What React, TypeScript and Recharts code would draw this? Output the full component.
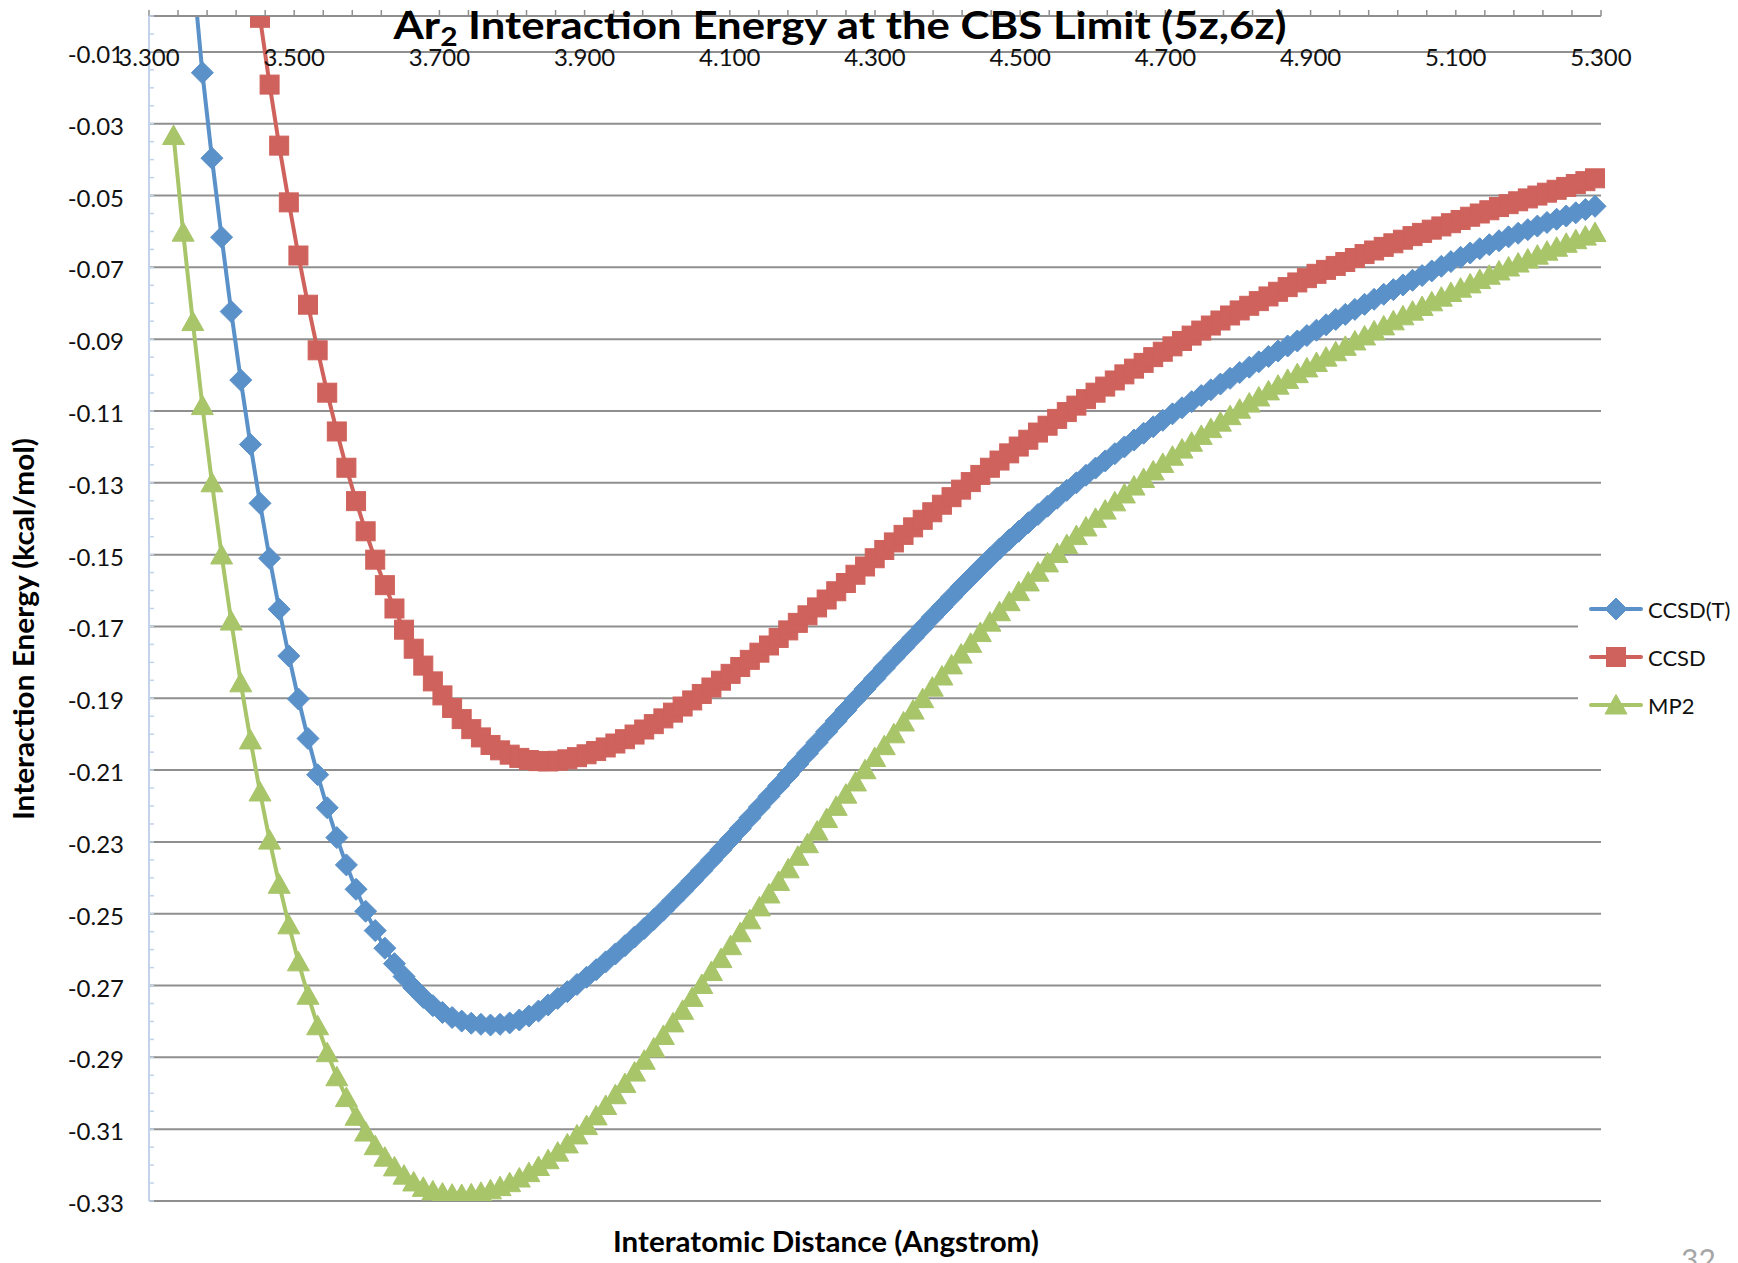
import { CartesianGrid, Legend, Line, LineChart, XAxis, YAxis } from "recharts";

const BLUE = "#5a91c9";
const RED = "#cf625c";
const GREEN = "#a8c56a";
const GRID = "#8f8f8f";
const Y_AXIS_LINE = "#c2d3ea";
const INK = "#111111";
const FONT = "Lato, 'Open Sans', sans-serif";

const BOHR_TO_ANGSTROM = 0.529177;

// separations were computed on a bohr grid
const separationBohr = [
  6.3, 6.325, 6.35, 6.375, 6.4, 6.425, 6.45, 6.475, 6.5, 6.525,
  6.55, 6.575, 6.6, 6.625, 6.65, 6.675, 6.7, 6.725, 6.75, 6.775,
  6.8, 6.825, 6.85, 6.875, 6.9, 6.925, 6.95, 6.975, 7.0, 7.025,
  7.05, 7.075, 7.1, 7.125, 7.15, 7.175, 7.2, 7.225, 7.25, 7.275,
  7.3, 7.325, 7.35, 7.375, 7.4, 7.425, 7.45, 7.475, 7.5, 7.525,
  7.55, 7.575, 7.6, 7.625, 7.65, 7.675, 7.7, 7.725, 7.75, 7.775,
  7.8, 7.825, 7.85, 7.875, 7.9, 7.925, 7.95, 7.975, 8.0, 8.025,
  8.05, 8.075, 8.1, 8.125, 8.15, 8.175, 8.2, 8.225, 8.25, 8.275,
  8.3, 8.325, 8.35, 8.375, 8.4, 8.425, 8.45, 8.475, 8.5, 8.525,
  8.55, 8.575, 8.6, 8.625, 8.65, 8.675, 8.7, 8.725, 8.75, 8.775,
  8.8, 8.825, 8.85, 8.875, 8.9, 8.925, 8.95, 8.975, 9.0, 9.025,
  9.05, 9.075, 9.1, 9.125, 9.15, 9.175, 9.2, 9.225, 9.25, 9.275,
  9.3, 9.325, 9.35, 9.375, 9.4, 9.425, 9.45, 9.475, 9.5, 9.525,
  9.55, 9.575, 9.6, 9.625, 9.65, 9.675, 9.7, 9.725, 9.75, 9.775,
  9.8, 9.825, 9.85, 9.875, 9.9, 9.925, 9.95, 9.975, 10.0,
];

const ccsdT = [
  0.075, 0.043, 0.013, -0.0158, -0.0396, -0.0616, -0.0823, -0.1014, -0.1193, -0.1357,
  -0.151, -0.1652, -0.1782, -0.1902, -0.2012, -0.2113, -0.2205, -0.2288, -0.2364, -0.2432,
  -0.2493, -0.2547, -0.2596, -0.2639, -0.2675, -0.2706, -0.2733, -0.2756, -0.2775, -0.2789,
  -0.2799, -0.2805, -0.2808, -0.281, -0.2808, -0.2804, -0.2796, -0.2785, -0.2771, -0.2754,
  -0.2736, -0.2717, -0.2697, -0.2677, -0.2656, -0.2634, -0.2612, -0.2589, -0.2565, -0.2541,
  -0.2516, -0.249, -0.2463, -0.2436, -0.2408, -0.238, -0.2351, -0.2322, -0.2293, -0.2263,
  -0.2233, -0.2203, -0.2173, -0.2143, -0.2113, -0.2083, -0.2053, -0.2023, -0.1993, -0.1963,
  -0.1933, -0.1903, -0.1874, -0.1845, -0.1816, -0.1787, -0.1759, -0.1731, -0.1703, -0.1674,
  -0.1646, -0.1618, -0.159, -0.1563, -0.1536, -0.151, -0.1484, -0.1459, -0.1435, -0.1411,
  -0.1388, -0.1365, -0.1343, -0.1321, -0.13, -0.1279, -0.1259, -0.1239, -0.1219, -0.12,
  -0.1181, -0.1162, -0.1144, -0.1126, -0.1108, -0.1091, -0.1074, -0.1057, -0.1041, -0.1025,
  -0.1009, -0.0993, -0.0978, -0.0963, -0.0948, -0.0933, -0.0919, -0.0905, -0.089, -0.0875,
  -0.086, -0.0845, -0.0831, -0.0817, -0.0803, -0.0789, -0.0775, -0.0762, -0.0749, -0.0736,
  -0.0723, -0.071, -0.0697, -0.0684, -0.0672, -0.066, -0.0648, -0.0637, -0.0626, -0.0615,
  -0.0605, -0.0595, -0.0585, -0.0575, -0.0566, -0.0557, -0.0548, -0.0539, -0.053,
];

const ccsd = [
  0.262, 0.222, 0.185, 0.151, 0.12, 0.092, 0.066, 0.042, 0.02, -0.0005,
  -0.0191, -0.0361, -0.0519, -0.0667, -0.0804, -0.0931, -0.1049, -0.1157, -0.1258, -0.1351,
  -0.1435, -0.1514, -0.1585, -0.165, -0.1709, -0.1762, -0.1809, -0.1853, -0.1892, -0.1927,
  -0.1958, -0.1986, -0.2009, -0.203, -0.2045, -0.2057, -0.2066, -0.2072, -0.2075, -0.2076,
  -0.2074, -0.207, -0.2064, -0.2056, -0.2047, -0.2037, -0.2026, -0.2014, -0.2001, -0.1987,
  -0.1972, -0.1956, -0.194, -0.1923, -0.1906, -0.1888, -0.187, -0.1851, -0.1832, -0.1813,
  -0.1793, -0.1773, -0.1753, -0.1732, -0.1711, -0.169, -0.1669, -0.1647, -0.1625, -0.1602,
  -0.1579, -0.1556, -0.1533, -0.151, -0.1487, -0.1466, -0.1445, -0.1424, -0.1403, -0.1382,
  -0.1361, -0.134, -0.1319, -0.1298, -0.1278, -0.1258, -0.1238, -0.1218, -0.1199, -0.118,
  -0.116, -0.1141, -0.1122, -0.1103, -0.1085, -0.1067, -0.1049, -0.1032, -0.1015, -0.0998,
  -0.0982, -0.0966, -0.095, -0.0935, -0.092, -0.0905, -0.089, -0.0876, -0.0862, -0.0848,
  -0.0834, -0.082, -0.0807, -0.0794, -0.0781, -0.0768, -0.0755, -0.0742, -0.073, -0.0718,
  -0.0707, -0.0696, -0.0685, -0.0674, -0.0663, -0.0653, -0.0643, -0.0633, -0.0623, -0.0613,
  -0.0604, -0.0595, -0.0586, -0.0577, -0.0568, -0.0559, -0.055, -0.0541, -0.0532, -0.0524,
  -0.0516, -0.0508, -0.05, -0.0492, -0.0484, -0.0476, -0.0468, -0.046, -0.0452,
];

const mp2 = [
  -0.0333, -0.0602, -0.0851, -0.1085, -0.13, -0.1501, -0.1685, -0.1857, -0.2016, -0.2161,
  -0.2295, -0.2418, -0.2531, -0.2634, -0.2727, -0.2812, -0.2887, -0.2954, -0.3012, -0.3064,
  -0.3108, -0.3146, -0.3178, -0.3205, -0.3228, -0.3247, -0.3262, -0.3272, -0.3278, -0.3281,
  -0.3282, -0.328, -0.3276, -0.3269, -0.326, -0.3249, -0.3236, -0.3221, -0.3204, -0.3185,
  -0.3164, -0.3141, -0.3116, -0.309, -0.3063, -0.3034, -0.3004, -0.2973, -0.2941, -0.2908,
  -0.2874, -0.2839, -0.2804, -0.2769, -0.2733, -0.2697, -0.2661, -0.2625, -0.2589, -0.2553,
  -0.2517, -0.2481, -0.2445, -0.241, -0.2375, -0.234, -0.2305, -0.227, -0.2235, -0.2201,
  -0.2167, -0.2133, -0.2099, -0.2065, -0.2032, -0.1999, -0.1966, -0.1933, -0.1901, -0.1869,
  -0.1838, -0.1807, -0.1777, -0.1747, -0.1717, -0.1688, -0.1659, -0.1631, -0.1603, -0.1576,
  -0.1549, -0.1523, -0.1497, -0.1472, -0.1447, -0.1423, -0.1399, -0.1376, -0.1353, -0.1331,
  -0.1309, -0.1288, -0.1267, -0.1246, -0.1226, -0.1206, -0.1187, -0.1168, -0.1149, -0.1131,
  -0.1113, -0.1095, -0.1078, -0.1061, -0.1044, -0.1028, -0.1012, -0.0996, -0.098, -0.0965,
  -0.095, -0.0935, -0.092, -0.0905, -0.0891, -0.0877, -0.0863, -0.0849, -0.0835, -0.0822,
  -0.0809, -0.0796, -0.0783, -0.077, -0.0758, -0.0746, -0.0734, -0.0722, -0.071, -0.0699,
  -0.0688, -0.0677, -0.0666, -0.0655, -0.0644, -0.0633, -0.0623, -0.0613, -0.0603,
];

const xTicks = [3.3, 3.5, 3.7, 3.9, 4.1, 4.3, 4.5, 4.7, 4.9, 5.1, 5.3];
const yTicks = [
  -0.33, -0.31, -0.29, -0.27, -0.25, -0.23, -0.21, -0.19, -0.17,
  -0.15, -0.13, -0.11, -0.09, -0.07, -0.05, -0.03, -0.01,
];

// minor tick marks: 5 per major on x, every 0.005 on y (labels only on majors)
const xMinorTicks = Array.from({ length: 51 }, (_, i) => Math.round((3.3 + i * 0.04) * 1000) / 1000);
const yMinorTicks = Array.from({ length: 67 }, (_, i) => Math.round((-0.33 + i * 0.005) * 1000) / 1000);

const isMajor = (list: number[], v: number) => list.some((t) => Math.abs(t - v) < 1e-6);

const data = separationBohr.map((b, i) => ({
  r: Math.round(b * BOHR_TO_ANGSTROM * 10000) / 10000,
  ccsdT: ccsdT[i],
  ccsd: ccsd[i],
  mp2: mp2[i],
}));

const W = 1738;
const H = 1263;
const PLOT_TOP = 16;
const PLOT_LEFT = 150;

type Shape = "diamond" | "square" | "triangle";

function MarkerShape({ shape, cx, cy, color }: { shape: Shape; cx: number; cy: number; color: string }) {
  if (shape === "diamond") {
    const r = 11;
    return <polygon points={`${cx},${cy - r} ${cx + r},${cy} ${cx},${cy + r} ${cx - r},${cy}`} fill={color} stroke={color} strokeWidth={1} />;
  }
  if (shape === "square") {
    return <rect x={cx - 9.5} y={cy - 9.5} width={19} height={19} fill={color} stroke={color} strokeWidth={1} />;
  }
  return <polygon points={`${cx},${cy - 10.5} ${cx + 11},${cy + 9} ${cx - 11},${cy + 9}`} fill={color} stroke={color} strokeWidth={1} />;
}

const dotFor = (shape: Shape, color: string) => (props: any) => {
  const { cx, cy, index } = props;
  if (cx == null || cy == null) return <g key={`${shape}-${index}`} />;
  return (
    <g key={`${shape}-${index}`}>
      <MarkerShape shape={shape} cx={cx} cy={cy} color={color} />
    </g>
  );
};

const SERIES = [
  { key: "ccsdT", name: "CCSD(T)", color: BLUE, shape: "diamond" as Shape },
  { key: "ccsd", name: "CCSD", color: RED, shape: "square" as Shape },
  { key: "mp2", name: "MP2", color: GREEN, shape: "triangle" as Shape },
];

function XTick({ x, payload }: any) {
  if (!isMajor(xTicks, payload.value)) return <g />;
  return (
    <text x={x} y={PLOT_TOP + 50} textAnchor="middle" fontSize={24} fontFamily={FONT} fill={INK}>
      {Number(payload.value).toFixed(3)}
    </text>
  );
}

function YTick({ y, payload }: any) {
  if (!isMajor(yTicks, payload.value)) return <g />;
  return (
    <text x={PLOT_LEFT - 26} y={y + 11} textAnchor="end" fontSize={24} fontFamily={FONT} fill={INK}>
      {Number(payload.value).toFixed(2)}
    </text>
  );
}

function LegendBox({ payload }: any) {
  const byKey: Record<string, any> = {};
  (payload || []).forEach((p: any) => (byKey[p.dataKey] = p));
  return (
    <div style={{ background: "#fff", paddingLeft: 11, width: 149, fontFamily: FONT }}>
      {SERIES.filter((s) => byKey[s.key]).map((s) => (
        <div key={s.key} style={{ display: "flex", alignItems: "center", height: 48 }}>
          <svg width={54} height={24}>
            <line x1={2} y1={12} x2={52} y2={12} stroke={s.color} strokeWidth={4} strokeLinecap="round" />
            <MarkerShape shape={s.shape} cx={27} cy={12} color={s.color} />
          </svg>
          <span style={{ marginLeft: 5, fontSize: 22, color: INK }}>{byKey[s.key].value}</span>
        </div>
      ))}
    </div>
  );
}

export default function App() {
  return (
    <div style={{ position: "absolute", left: 0, top: 0, width: W, height: H, background: "#fff", fontFamily: FONT }}>
      <LineChart width={W} height={H} data={data} margin={{ top: PLOT_TOP - 1, right: 137, bottom: 62, left: PLOT_LEFT - 1 }}>
        <CartesianGrid vertical={false} horizontalValues={yTicks} stroke={GRID} strokeWidth={2} />
        <XAxis
          dataKey="r"
          type="number"
          orientation="top"
          domain={[3.3, 5.3]}
          ticks={xMinorTicks}
          interval={0}
          height={1}
          tickSize={6}
          tickLine={{ stroke: GRID, strokeWidth: 1.5 }}
          axisLine={{ stroke: GRID, strokeWidth: 2 }}
          tick={<XTick />}
        />
        <YAxis
          type="number"
          domain={[-0.33, 0]}
          allowDataOverflow
          ticks={yMinorTicks}
          interval={0}
          width={1}
          mirror
          tickSize={5}
          tickLine={{ stroke: Y_AXIS_LINE, strokeWidth: 1.5 }}
          axisLine={{ stroke: Y_AXIS_LINE, strokeWidth: 2 }}
          tick={<YTick />}
        />
        <Legend
          layout="vertical"
          align="center"
          verticalAlign="middle"
          wrapperStyle={{ left: 1578, top: 585, width: 160 }}
          content={<LegendBox />}
        />
        {SERIES.map((s) => (
          <Line
            key={s.key}
            type="linear"
            dataKey={s.key}
            name={s.name}
            stroke={s.color}
            strokeWidth={4}
            dot={dotFor(s.shape, s.color)}
            activeDot={false}
            isAnimationActive={false}
          />
        ))}
      </LineChart>
      <svg width={W} height={H} style={{ position: "absolute", left: 0, top: 0, pointerEvents: "none" }}>
        <text x={840} y={39} textAnchor="middle" fontSize={38} fontWeight={700} fontFamily={FONT} fill="#000" textLength={893} lengthAdjust="spacingAndGlyphs">
          Ar<tspan fontSize={26} dy={7}>2</tspan>
          <tspan dy={-7}> Interaction Energy at the CBS Limit (5z,6z)</tspan>
        </text>
        <text transform="rotate(-90)" x={-629} y={34} textAnchor="middle" fontSize={28} fontWeight={700} fontFamily={FONT} fill="#000" textLength={382} lengthAdjust="spacingAndGlyphs">
          Interaction Energy (kcal/mol)
        </text>
        <text x={826} y={1252} textAnchor="middle" fontSize={28} fontWeight={700} fontFamily={FONT} fill="#000" textLength={426} lengthAdjust="spacingAndGlyphs">
          Interatomic Distance (Angstrom)
        </text>
        <text x={1681} y={1271} fontSize={30} fontFamily={FONT} fill="#a6a6a6">
          32
        </text>
      </svg>
    </div>
  );
}
